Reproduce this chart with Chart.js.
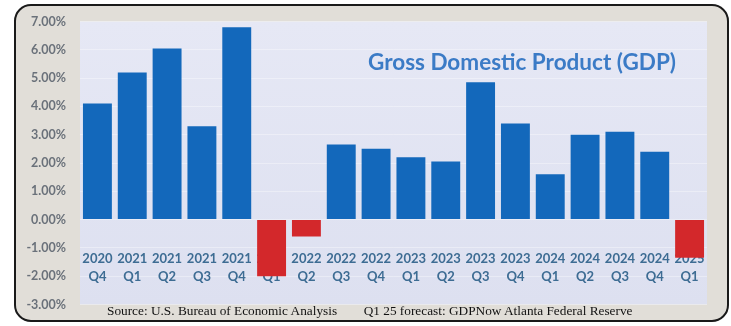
<!DOCTYPE html>
<html lang="en">
<head>
    <meta charset="UTF-8">
    <title>Gross Domestic Product (GDP)</title>
    <script src="https://cdn.jsdelivr.net/npm/chart.js"></script>
    <style>
        html, body { margin: 0; padding: 0; background: #ffffff; }
        #wrap { position: relative; width: 731px; height: 326px; }
        #title {
            position: absolute; left: 352px; top: 48px; width: 340px;
            text-align: center; font: bold 22.5px Lato, sans-serif; color: #3b7bc6;
        }
        #source {
            position: absolute; left: 107px; top: 303px; white-space: pre;
            font: 13.3px "Liberation Serif", serif; color: #111;
        }
    </style>
</head>
<body>
<div id="wrap">
    <canvas id="gdpChart" width="731" height="326"></canvas>
    <div id="title">Gross Domestic Product (GDP)</div>
    <div id="source">Source: U.S. Bureau of Economic Analysis        Q1 25 forecast: GDPNow Atlanta Federal Reserve</div>
</div>

<script>
    // quarters and annualized growth (%)
    const years = ["2020", "2021", "2021", "2021", "2021", "2022", "2022", "2022", "2022",
                   "2023", "2023", "2023", "2023", "2024", "2024", "2024", "2024", "2025"];
    const quarters = ["Q4", "Q1", "Q2", "Q3", "Q4", "Q1", "Q2", "Q3", "Q4",
                      "Q1", "Q2", "Q3", "Q4", "Q1", "Q2", "Q3", "Q4", "Q1"];
    const growth = [4.1, 5.2, 6.05, 3.3, 6.8, -2.0, -0.6, 2.65, 2.5,
                    2.2, 2.05, 4.85, 3.4, 1.6, 3.0, 3.1, 2.4, -1.35];
    const yTicks = { min: -3, max: 7, step: 1 };

    const labels = years.map((y, i) => [y, quarters[i]]);

    // frame + plot background
    const framePlugin = {
        id: "frame",
        beforeDraw(chart) {
            const ctx = chart.ctx;
            const a = chart.chartArea;
            ctx.save();
            ctx.fillStyle = "#ffffff";
            ctx.fillRect(0, 0, chart.width, chart.height);

            ctx.beginPath();
            ctx.roundRect(15, 5, 713, 316, 16);
            ctx.fillStyle = "#e1ded8";
            ctx.fill();
            ctx.lineWidth = 2;
            ctx.strokeStyle = "#1a1a1a";
            ctx.stroke();

            const g = ctx.createLinearGradient(a.left, a.top, a.left, a.bottom);
            g.addColorStop(0, "#e6e8f5");
            g.addColorStop(1, "#dde0f0");
            ctx.fillStyle = g;
            ctx.fillRect(a.left, a.top, a.right - a.left, a.bottom - a.top);
            ctx.restore();
        }
    };

    const ctx = document.getElementById("gdpChart").getContext("2d");
    new Chart(ctx, {
        type: "bar",
        data: {
            labels: labels,
            datasets: [{
                data: growth,
                backgroundColor: c => c.raw < 0 ? "#d3282b" : "#1368bb",
                barPercentage: 0.83,
                categoryPercentage: 1.0
            }]
        },
        options: {
            responsive: false,
            animation: false,
            layout: { padding: { top: 20, bottom: 20, left: 0, right: 24 } },
            plugins: {
                legend: { display: false },
                tooltip: { enabled: false }
            },
            scales: {
                x: {
                    position: { y: -1 },
                    afterFit: s => { s.height = 0; },
                    grid: { display: false, drawTicks: false },
                    border: { display: false },
                    ticks: {
                        padding: 1,
                        maxRotation: 0,
                        autoSkip: false,
                        color: "#3d6c93",
                        font: { family: "Lato", size: 13, weight: "bold", lineHeight: 1.45 }
                    }
                },
                y: {
                    min: yTicks.min,
                    max: yTicks.max,
                    afterFit: s => { s.width = 80; },
                    grid: { color: "rgba(255,255,255,0.35)", drawTicks: false },
                    border: { display: false },
                    ticks: {
                        stepSize: yTicks.step,
                        padding: 14,
                        color: "#6a717a",
                        font: { family: "Lato", size: 12.5, weight: "bold" },
                        callback: v => v.toFixed(2) + "%"
                    }
                }
            }
        },
        plugins: [framePlugin]
    });
</script>
</body>
</html>
